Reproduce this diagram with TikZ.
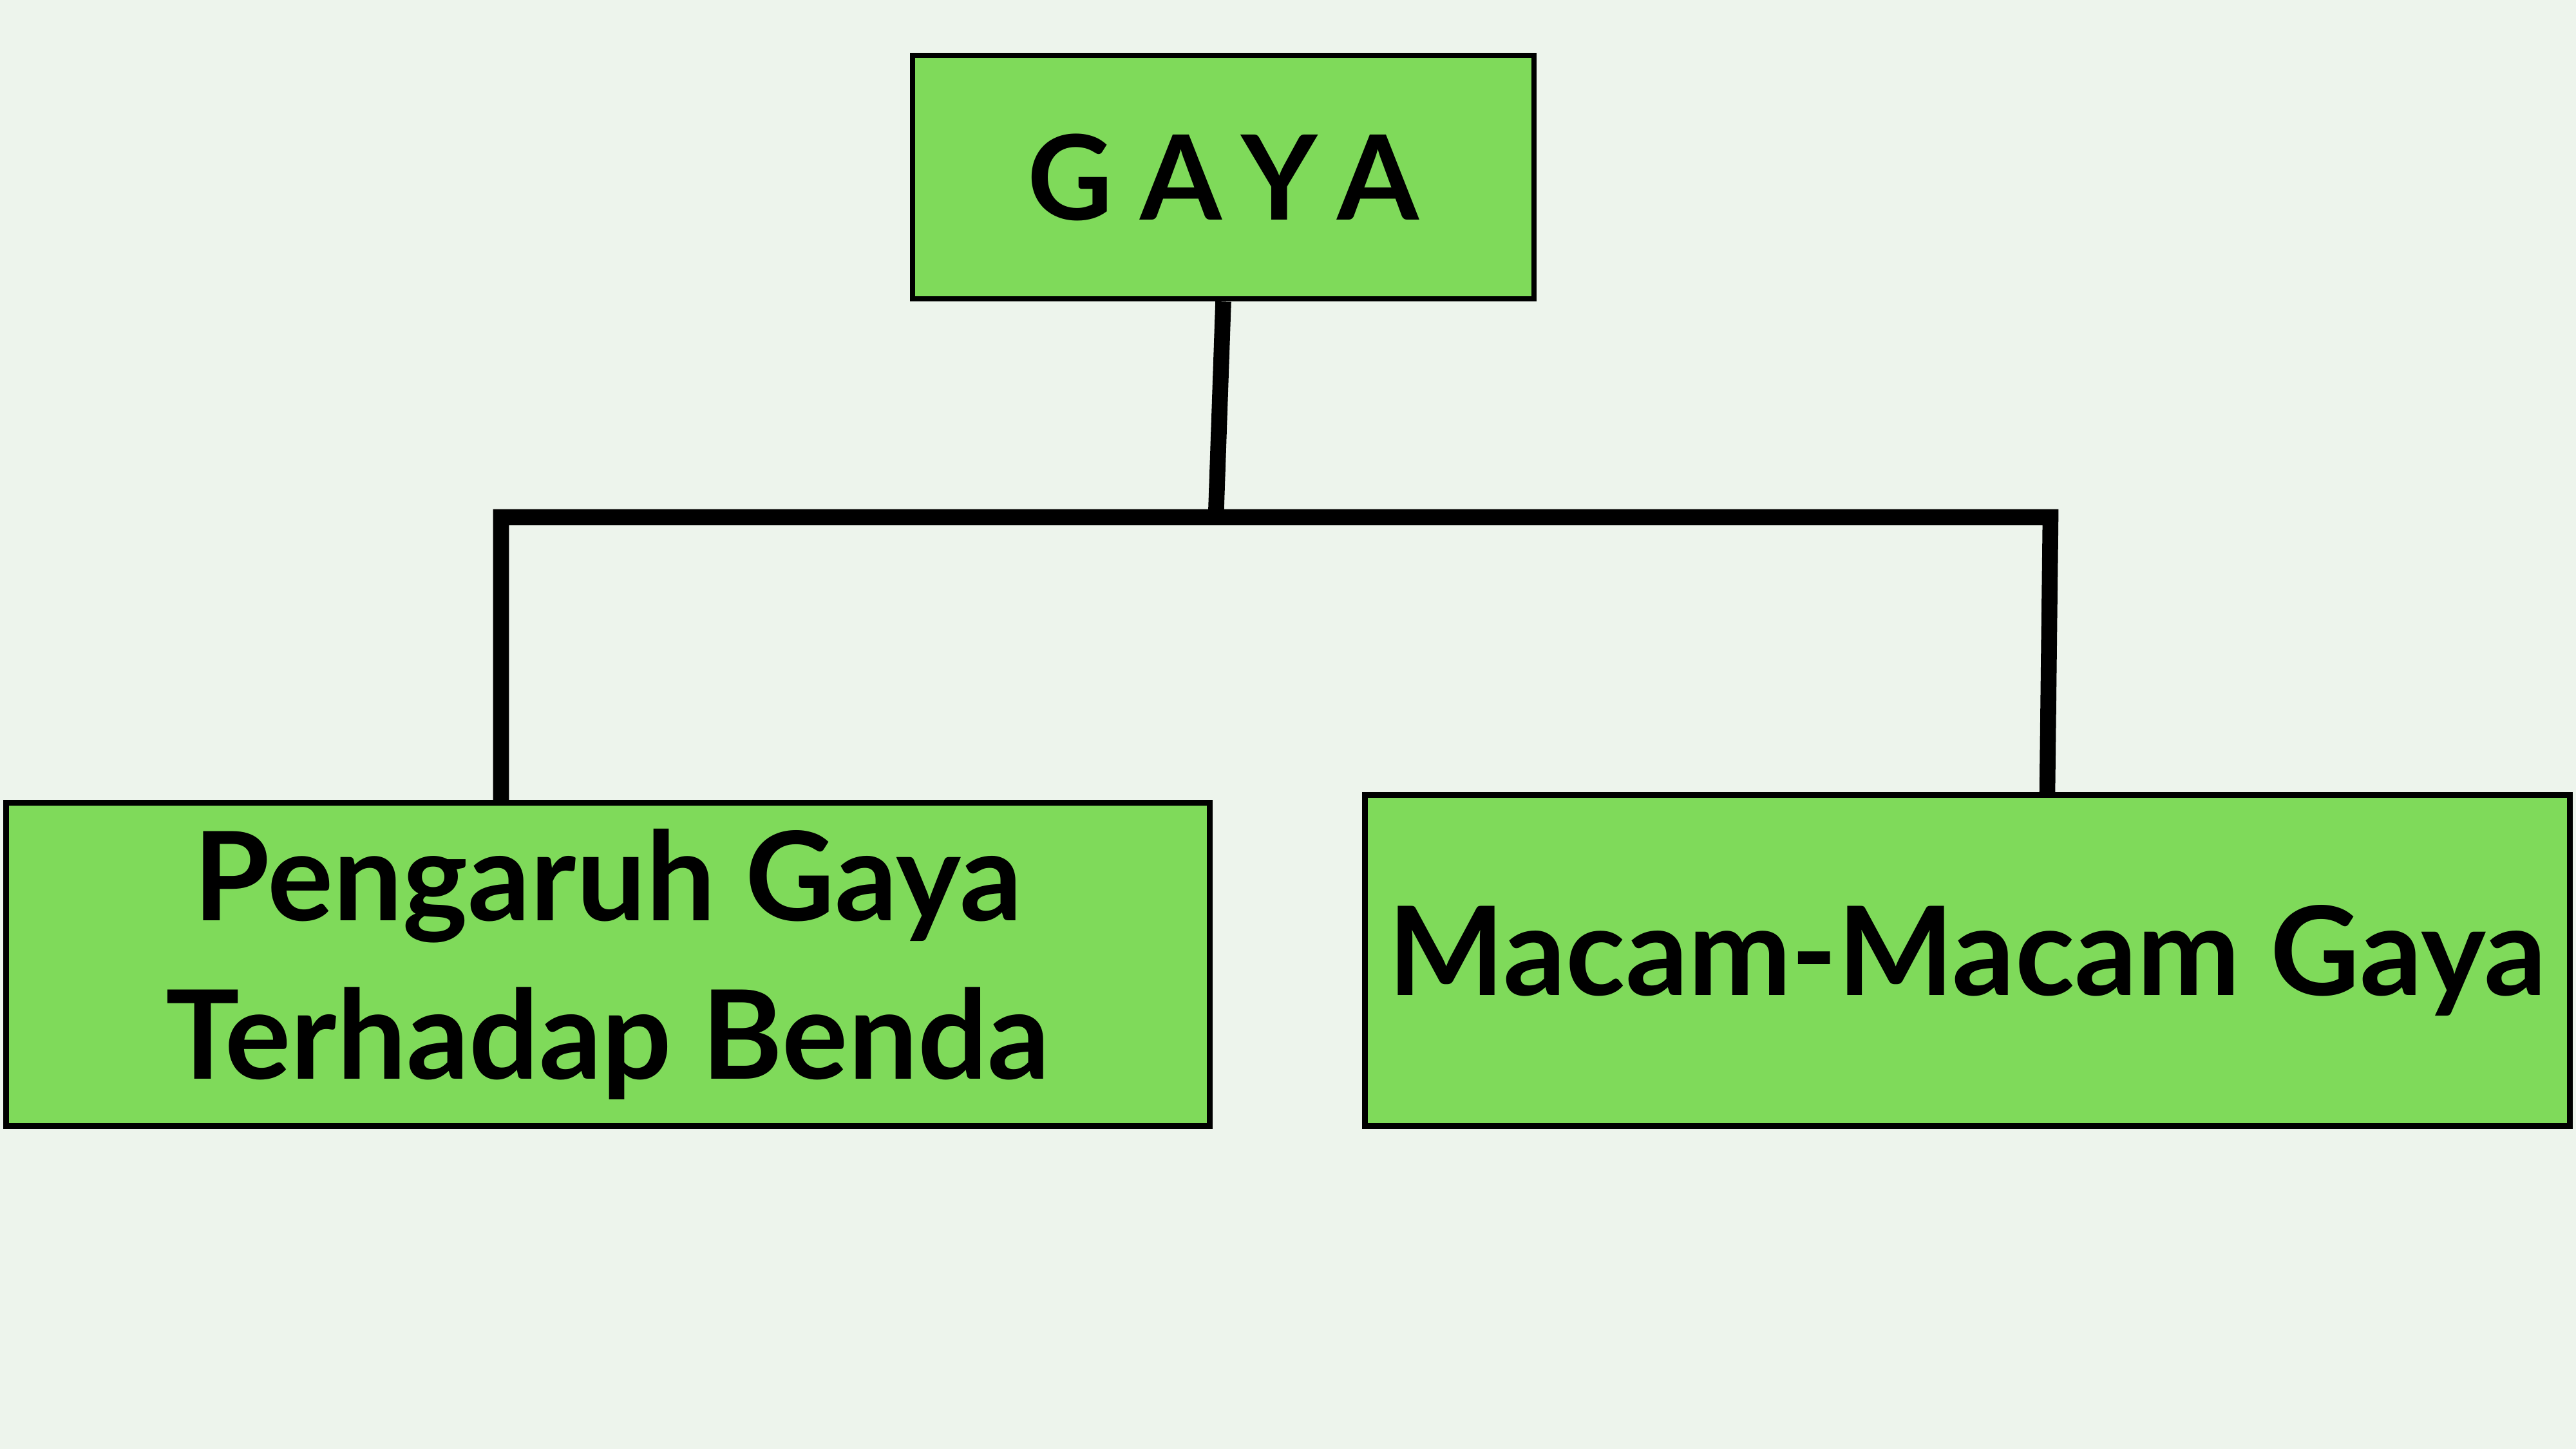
\documentclass[tikz,border=0pt]{standalone}
\usepackage{fontspec}
\setmainfont{Lato}
\usepackage{tikz}
\usetikzlibrary{positioning,calc}
\definecolor{bgcol}{HTML}{EDF4EC}
\definecolor{boxgreen}{HTML}{7FDA5A}
\tikzset{box/.style={draw=black,line width=2.5pt,fill=boxgreen,inner sep=0pt,
  align=center,font=\fontsize{54.5}{70}\selectfont\bfseries},
  link/.style={line width=7pt}}

\begin{document}
\begin{tikzpicture}
\fill[bgcol] (0,0) rectangle (40,22.5);
\useasboundingbox (0,0) rectangle (40,22.5);

\node[box,minimum width=9.65cm,minimum height=3.78cm,
  font=\fontsize{52}{70}\selectfont\bfseries] (gaya) at (18.995,19.75)
{\addfontfeature{LetterSpace=24}GAYA};
\node[box,minimum width=18.69cm,minimum height=5.02cm] (pengaruh) at (9.44,7.525)
{Pengaruh Gaya\\Terhadap Benda};
\node[box,minimum width=18.71cm,minimum height=5.14cm] (macam) at (30.55,7.585)
{Macam-Macam Gaya};

\coordinate (jt) at (18.88,14.47);
\coordinate (jl) at (7.78,14.47);
\coordinate (jr) at (31.84,14.47);

\draw[link] (gaya.south) -- (jt);
\draw[link] (jl |- pengaruh.north) -- (jl) -- (jr) -- ($(jr |- macam.north)+(-0.05,0)$);

\end{tikzpicture}
\end{document}
